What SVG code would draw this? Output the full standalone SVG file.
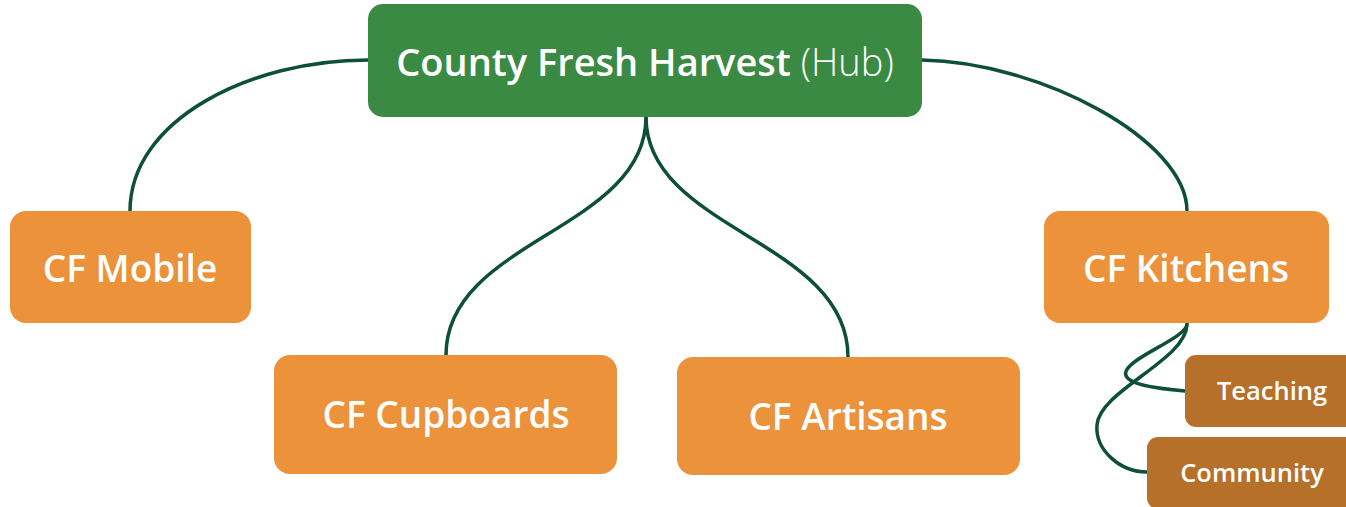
<svg xmlns="http://www.w3.org/2000/svg" width="1346" height="507" viewBox="0 0 1346 507">
<style>
.link{fill:none;stroke:#0d4f3b;stroke-width:3.5;stroke-linecap:round}
.main{fill:#eb923a}
.sub{fill:#b6702a}
.hub{fill:#3a8a43}
text{font-family:"Open Sans","Noto Sans","Liberation Sans",sans-serif;fill:#ffffff;text-anchor:middle}
.t1{font-size:37px;font-weight:600}
.t0{font-size:38px;font-weight:600}
.t2{font-size:25.5px;font-weight:600}
.light{font-weight:300}
</style>
<rect width="1346" height="507" fill="#ffffff"/>
<g id="connectors">
<path class="link" d="M368,60 C250,60 130,120 130,211"/>
<path class="link" d="M922,60 C1040,62 1187,140 1187,211"/>
<path class="link" d="M646,117 C646,230 446,240 446,355"/>
<path class="link" d="M646,117 C646,230 848,240 848,357"/>
<path class="link" d="M1187,324 C1187,345 1050,380 1185,391"/>
<path class="link" d="M1187,324 C1187,360 1100,390 1097,425 C1095,450 1120,472 1147,472"/>
</g>
<g id="hub">
<rect class="hub" x="368" y="4" width="554" height="113" rx="15"/>
<text class="t0" x="645" y="76">County Fresh Harvest <tspan class="light">(Hub)</tspan></text>
</g>
<g id="cf-mobile">
<rect class="main" x="10" y="211" width="241" height="112" rx="16"/>
<text class="t1" x="130" y="282">CF Mobile</text>
</g>
<g id="cf-cupboards">
<rect class="main" x="274" y="355" width="343" height="119" rx="16"/>
<text class="t1" x="446" y="428">CF Cupboards</text>
</g>
<g id="cf-artisans">
<rect class="main" x="677" y="357" width="343" height="118" rx="16"/>
<text class="t1" x="848" y="430">CF Artisans</text>
</g>
<g id="cf-kitchens">
<rect class="main" x="1044" y="211" width="285" height="112" rx="16"/>
<text class="t1" x="1186" y="282">CF Kitchens</text>
</g>
<g id="teaching">
<rect class="sub" x="1185" y="355" width="174" height="72" rx="11"/>
<text class="t2" x="1272" y="400">Teaching</text>
</g>
<g id="community">
<rect class="sub" x="1147" y="437" width="210" height="72" rx="11"/>
<text class="t2" x="1252" y="482">Community</text>
</g>
</svg>
